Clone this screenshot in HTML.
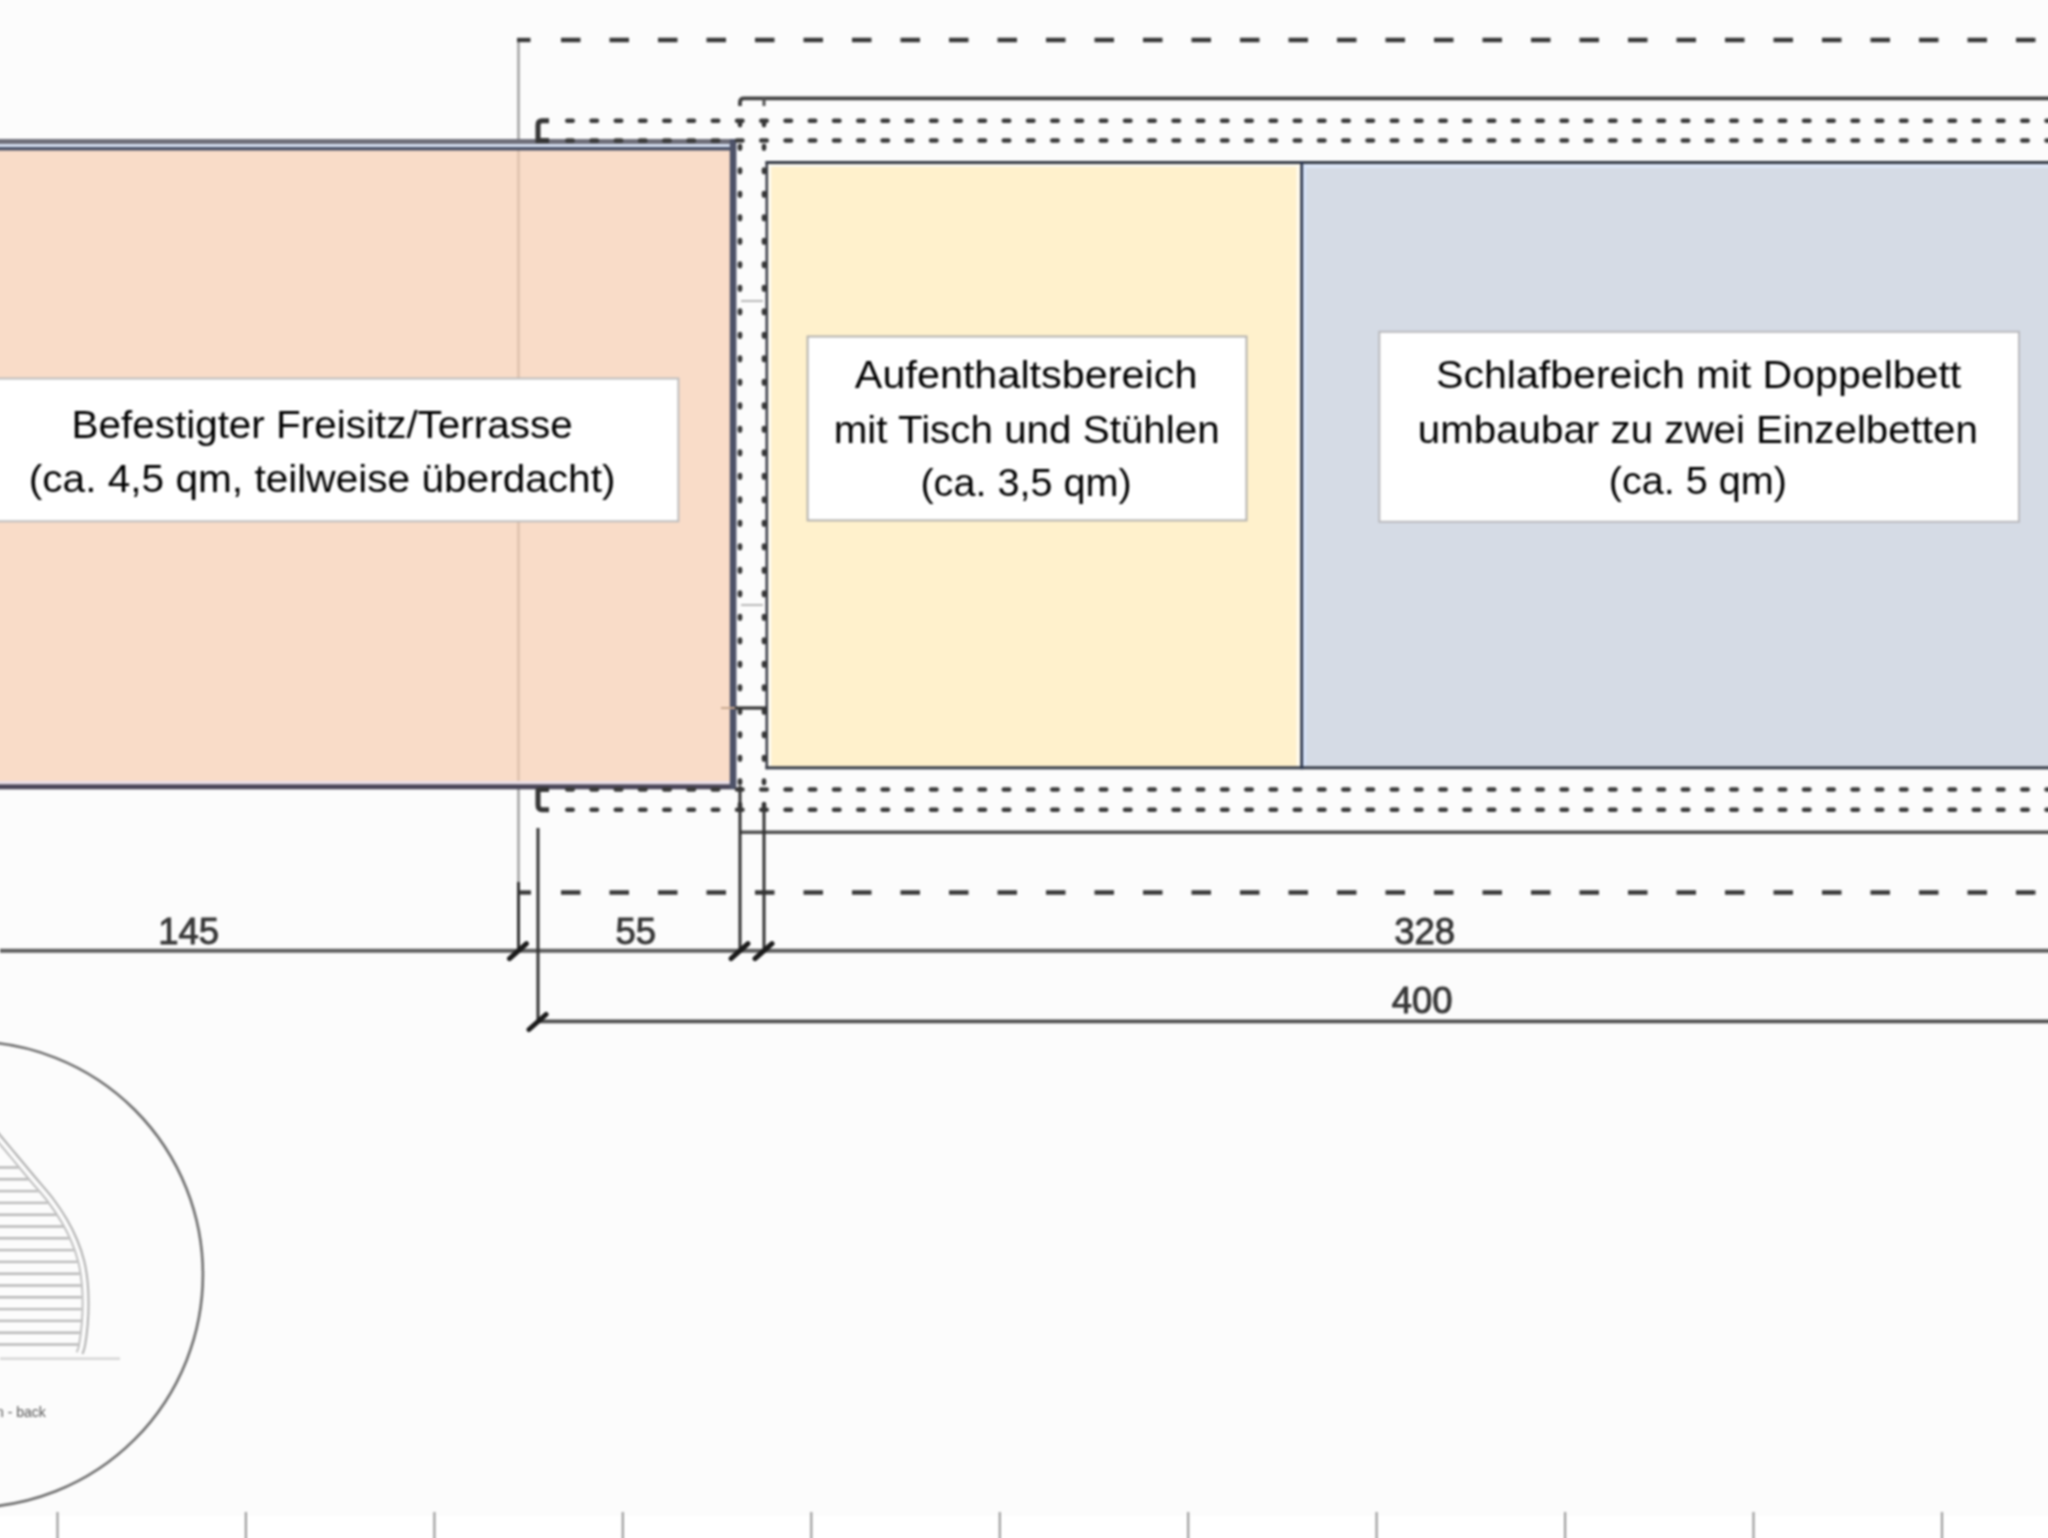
<!DOCTYPE html>
<html><head><meta charset="utf-8"><title>Grundriss</title>
<style>html,body{margin:0;padding:0;background:#fcfcfc;overflow:hidden;width:2048px;height:1538px}body{position:relative}svg{display:block;position:absolute;left:-10px;top:-10px;filter:blur(0.8px)}</style>
</head><body>
<svg width="2068" height="1558" viewBox="-10 -10 2068 1558"><rect x="-10" y="-10" width="2068" height="1558" fill="#fcfcfc"/>
<rect x="-10" y="1516" width="2068" height="32" fill="#ffffff"/>
<rect x="-10" y="144" width="741" height="640" fill="#f9dcc8"/>
<rect x="766" y="162" width="536" height="606" fill="#fff1cc"/>
<rect x="1302" y="162" width="760" height="606" fill="#d5dbe5"/>
<line x1="518.5" y1="40" x2="518.5" y2="140" stroke="#aaaaaa" stroke-width="2.8"/>
<line x1="518.5" y1="150" x2="518.5" y2="784" stroke="#e0c4b0" stroke-width="2.8"/>
<line x1="518.5" y1="789" x2="518.5" y2="882" stroke="#aaaaaa" stroke-width="2.8"/>
<rect x="-10" y="139" width="746" height="5" fill="#6f6f7a"/>
<rect x="-10" y="144" width="740" height="3" fill="#d6e0f2"/>
<rect x="-10" y="147" width="740" height="3.5" fill="#4b5369"/>
<rect x="-10" y="781" width="740" height="3" fill="#eadde6"/>
<rect x="-10" y="784.3" width="746" height="5" fill="#4a4558"/>
<rect x="729.8" y="139" width="6.6" height="650" fill="#4d5268"/>
<rect x="765.5" y="161" width="1300" height="3.1" fill="#333944"/>
<rect x="768" y="164" width="534" height="3" fill="#fbf8ee"/>
<rect x="1303" y="164" width="760" height="4" fill="#dde6f7"/>
<rect x="765.5" y="766.3" width="1300" height="3" fill="#363c48"/>
<rect x="765.5" y="161.3" width="2.7" height="607.9" fill="#3a3d48"/>
<rect x="768.2" y="164" width="3" height="602" fill="#fdfcf4"/>
<rect x="1296.5" y="164" width="4" height="602" fill="#fffbee"/>
<rect x="1300.3" y="161.3" width="3" height="607.9" fill="#2e3850"/>
<rect x="1303.3" y="164" width="3" height="602" fill="#d8e4fa"/>
<path d="M740 106 V102 Q740 98.3 744 98.3 H2060" fill="none" stroke="#404040" stroke-width="3.8"/>
<line x1="764" y1="98" x2="764" y2="106" stroke="#505050" stroke-width="3"/>
<line x1="740" y1="832.2" x2="2060" y2="832.2" stroke="#505050" stroke-width="3.6"/>
<line x1="517" y1="40" x2="530.5" y2="40" stroke="#383838" stroke-width="4.3" fill="none" stroke-width="4.2"/>
<line x1="561" y1="40" x2="2060" y2="40" stroke="#383838" stroke-width="4.3" fill="none" stroke-dasharray="19.5 29"/>
<line x1="518.5" y1="892.5" x2="531" y2="892.5" stroke="#383838" stroke-width="4.3" fill="none" stroke-width="3.6"/>
<line x1="561" y1="892.5" x2="2060" y2="892.5" stroke="#383838" stroke-width="4.3" fill="none" stroke-dasharray="19.5 29"/>
<line x1="567.3" y1="120.7" x2="2060" y2="120.7" stroke="#3a3a3a" stroke-width="4.6" fill="none" stroke-linecap="round" stroke-dasharray="5.4 18.85"/>
<line x1="567.3" y1="140.5" x2="2060" y2="140.5" stroke="#3a3a3a" stroke-width="4.6" fill="none" stroke-linecap="round" stroke-dasharray="5.4 18.85"/>
<line x1="567.3" y1="789.5" x2="2060" y2="789.5" stroke="#3a3a3a" stroke-width="4.6" fill="none" stroke-linecap="round" stroke-dasharray="5.4 18.85"/>
<line x1="567.3" y1="809.8" x2="2060" y2="809.8" stroke="#3a3a3a" stroke-width="4.6" fill="none" stroke-linecap="round" stroke-dasharray="5.4 18.85"/>
<path d="M549 120.7 H542 Q538 120.7 538 125 V140.5 H549" stroke="#353535" stroke-width="5" fill="none"/>
<path d="M549 789.5 H542 Q538 789.5 538 790 V805 Q538 809.8 542 809.8 H549" stroke="#353535" stroke-width="5" fill="none"/>
<line x1="740" y1="122.3" x2="740" y2="812" stroke="#363636" stroke-width="4.6" stroke-linecap="round" stroke-dasharray="2.6 20.9" stroke-dashoffset="-0.20000000000000284"/>
<line x1="764" y1="122.3" x2="764" y2="812" stroke="#363636" stroke-width="4.6" stroke-linecap="round" stroke-dasharray="2.6 20.9" stroke-dashoffset="-0.20000000000000284"/>
<line x1="741" y1="301" x2="763" y2="301" stroke="#b8b8b8" stroke-width="2"/>
<line x1="741" y1="605" x2="763" y2="605" stroke="#b8b8b8" stroke-width="2"/>
<line x1="721" y1="708" x2="735" y2="708" stroke="#c8a890" stroke-width="2"/>
<line x1="735" y1="708" x2="766" y2="708" stroke="#333" stroke-width="3.2"/>
<line x1="0" y1="950.7" x2="2060" y2="950.7" stroke="#5e5e5e" stroke-width="3.9"/>
<line x1="538" y1="1021.3" x2="2060" y2="1021.3" stroke="#4e4e4e" stroke-width="3.8"/>
<line x1="518.5" y1="882" x2="518.5" y2="951" stroke="#333" stroke-width="3"/>
<line x1="538" y1="828" x2="538" y2="1022" stroke="#333" stroke-width="3"/>
<line x1="740" y1="786" x2="740" y2="951" stroke="#333" stroke-width="3"/>
<line x1="764" y1="803" x2="764" y2="951" stroke="#333" stroke-width="3"/>
<line x1="509.5" y1="958.7" x2="526.5" y2="943.7" stroke="#1a1a1a" stroke-width="5" stroke-linecap="round"/>
<line x1="731" y1="958.7" x2="748" y2="943.7" stroke="#1a1a1a" stroke-width="5" stroke-linecap="round"/>
<line x1="755" y1="958.7" x2="772" y2="943.7" stroke="#1a1a1a" stroke-width="5" stroke-linecap="round"/>
<line x1="529" y1="1029.5" x2="546" y2="1014.5" stroke="#1a1a1a" stroke-width="5" stroke-linecap="round"/>
<text x="188.7" y="944" font-family="Liberation Sans" font-size="36.5" fill="#383838" stroke="#333" stroke-width="0.9" text-anchor="middle">145</text>
<text x="635.7" y="944" font-family="Liberation Sans" font-size="36.5" fill="#383838" stroke="#333" stroke-width="0.9" text-anchor="middle">55</text>
<text x="1424.6" y="944.3" font-family="Liberation Sans" font-size="36.5" fill="#383838" stroke="#333" stroke-width="0.9" text-anchor="middle">328</text>
<text x="1422.2" y="1013.4" font-family="Liberation Sans" font-size="36.5" fill="#383838" stroke="#333" stroke-width="0.9" text-anchor="middle">400</text>
<rect x="-34" y="378.5" width="712.4" height="142.8" fill="#ffffff" stroke="#bdbdbd" stroke-width="2"/>
<rect x="807.6" y="336.5" width="438.9" height="183.9" fill="#ffffff" stroke="#b4b2ae" stroke-width="2"/>
<rect x="1379.3" y="331.8" width="639.7" height="190" fill="#ffffff" stroke="#b9b9bd" stroke-width="2"/>
<text x="71.5" y="438" textLength="501.2" font-family="Liberation Sans" font-size="38" fill="#000000" lengthAdjust="spacingAndGlyphs">Befestigter Freisitz/Terrasse</text>
<text x="28.8" y="491.6" textLength="586.7" font-family="Liberation Sans" font-size="38" fill="#000000" lengthAdjust="spacingAndGlyphs">(ca. 4,5 qm, teilweise überdacht)</text>
<text x="854.8" y="388.4" textLength="342.6" font-family="Liberation Sans" font-size="38" fill="#000000" lengthAdjust="spacingAndGlyphs">Aufenthaltsbereich</text>
<text x="833.7" y="443" textLength="386.0" font-family="Liberation Sans" font-size="38" fill="#000000" lengthAdjust="spacingAndGlyphs">mit Tisch und Stühlen</text>
<text x="920.4" y="495.8" textLength="211.4" font-family="Liberation Sans" font-size="38" fill="#000000" lengthAdjust="spacingAndGlyphs">(ca. 3,5 qm)</text>
<text x="1436.0" y="388" textLength="525.3" font-family="Liberation Sans" font-size="38" fill="#000000" lengthAdjust="spacingAndGlyphs">Schlafbereich mit Doppelbett</text>
<text x="1417.8" y="442.8" textLength="560.1" font-family="Liberation Sans" font-size="38" fill="#000000" lengthAdjust="spacingAndGlyphs">umbaubar zu zwei Einzelbetten</text>
<text x="1608.7" y="494.3" textLength="178.3" font-family="Liberation Sans" font-size="38" fill="#000000" lengthAdjust="spacingAndGlyphs">(ca. 5 qm)</text>
<circle cx="-30.2" cy="1274.6" r="233.1" fill="none" stroke="#6e6e6e" stroke-width="2.6"/>
<path d="M-20 1111 C-16.7 1115.0 -6.2 1127.5 0 1135 C6.2 1142.5 11.7 1149.0 17.5 1156 C23.3 1163.0 29.1 1170.0 35 1177 C40.9 1184.0 47.3 1191.0 52.6 1198 C57.9 1205.0 62.6 1212.0 66.7 1219 C70.8 1226.0 74.3 1233.0 77.2 1240 C80.1 1247.0 82.5 1253.9 84.2 1261 C86.0 1268.1 87.0 1275.4 87.7 1282.5 C88.4 1289.6 88.6 1296.5 88.6 1303.5 C88.6 1310.5 88.3 1317.6 87.7 1324.6 C87.1 1331.6 85.9 1340.7 85 1345.6 C84.1 1350.5 82.9 1352.6 82.5 1354" fill="none" stroke="#b0b0b0" stroke-width="2"/>
<path d="M-24.6 1114.8 C-21.3 1118.8 -10.8 1131.3 -4.6 1138.8 C1.7 1146.3 7.1 1152.8 12.9 1159.8 C18.7 1166.8 24.6 1173.8 30.4 1180.8 C36.2 1187.8 42.6 1194.7 47.8 1201.6 C53.0 1208.5 57.5 1215.2 61.5 1222.0 C65.5 1228.8 68.9 1235.6 71.7 1242.3 C74.5 1249.0 76.7 1255.6 78.4 1262.4 C80.1 1269.2 81.0 1276.2 81.7 1283.1 C82.4 1289.9 82.6 1296.7 82.6 1303.5 C82.6 1310.3 82.3 1317.2 81.7 1324.1 C81.1 1330.9 79.9 1339.9 79.1 1344.6 C78.3 1349.3 77.1 1351.0 76.7 1352.3" fill="none" stroke="#bababa" stroke-width="1.8"/>
<clipPath id="hc"><path d="M-25.4 1115.5 C-22.1 1119.5 -11.7 1132.0 -5.4 1139.5 C0.8 1147.0 6.3 1153.5 12.1 1160.5 C17.9 1167.5 23.8 1174.5 29.6 1181.5 C35.4 1188.5 41.8 1195.4 47.0 1202.2 C52.2 1209.0 56.8 1215.8 60.7 1222.5 C64.7 1229.2 67.9 1236.0 70.7 1242.7 C73.5 1249.4 75.7 1256.0 77.4 1262.7 C79.1 1269.5 80.0 1276.4 80.7 1283.2 C81.4 1290.0 81.6 1296.7 81.6 1303.5 C81.6 1310.3 81.3 1317.2 80.7 1324.0 C80.1 1330.8 78.9 1339.7 78.1 1344.4 C77.3 1349.1 76.2 1350.7 75.8 1352.0 L-20 1354 Z"/></clipPath>
<g clip-path="url(#hc)">
<line x1="-20" y1="1167.5" x2="100" y2="1167.5" stroke="#b8b8b8" stroke-width="2.4"/>
<line x1="-20" y1="1179.3" x2="100" y2="1179.3" stroke="#b8b8b8" stroke-width="2.4"/>
<line x1="-20" y1="1191.1" x2="100" y2="1191.1" stroke="#b8b8b8" stroke-width="2.4"/>
<line x1="-20" y1="1202.9" x2="100" y2="1202.9" stroke="#b8b8b8" stroke-width="2.4"/>
<line x1="-20" y1="1214.7" x2="100" y2="1214.7" stroke="#b8b8b8" stroke-width="2.4"/>
<line x1="-20" y1="1226.5" x2="100" y2="1226.5" stroke="#b8b8b8" stroke-width="2.4"/>
<line x1="-20" y1="1238.3" x2="100" y2="1238.3" stroke="#b8b8b8" stroke-width="2.4"/>
<line x1="-20" y1="1250.1" x2="100" y2="1250.1" stroke="#b8b8b8" stroke-width="2.4"/>
<line x1="-20" y1="1261.9" x2="100" y2="1261.9" stroke="#b8b8b8" stroke-width="2.4"/>
<line x1="-20" y1="1273.7" x2="100" y2="1273.7" stroke="#b8b8b8" stroke-width="2.4"/>
<line x1="-20" y1="1285.5" x2="100" y2="1285.5" stroke="#b8b8b8" stroke-width="2.4"/>
<line x1="-20" y1="1297.3" x2="100" y2="1297.3" stroke="#b8b8b8" stroke-width="2.4"/>
<line x1="-20" y1="1309.1" x2="100" y2="1309.1" stroke="#b8b8b8" stroke-width="2.4"/>
<line x1="-20" y1="1320.9" x2="100" y2="1320.9" stroke="#b8b8b8" stroke-width="2.4"/>
<line x1="-20" y1="1332.7" x2="100" y2="1332.7" stroke="#b8b8b8" stroke-width="2.4"/>
<line x1="-20" y1="1344.5" x2="100" y2="1344.5" stroke="#b8b8b8" stroke-width="2.4"/>
</g>
<line x1="0" y1="1358.6" x2="120" y2="1358.6" stroke="#d2d2d2" stroke-width="2.2"/>
<text x="-4" y="1417" font-family="Liberation Sans" font-size="14" fill="#555">n - back</text>
<line x1="57.5" y1="1512" x2="57.5" y2="1540" stroke="#9c9c9c" stroke-width="2.2"/>
<line x1="245.9" y1="1512" x2="245.9" y2="1540" stroke="#9c9c9c" stroke-width="2.2"/>
<line x1="434.4" y1="1512" x2="434.4" y2="1540" stroke="#9c9c9c" stroke-width="2.2"/>
<line x1="622.8" y1="1512" x2="622.8" y2="1540" stroke="#9c9c9c" stroke-width="2.2"/>
<line x1="811.3" y1="1512" x2="811.3" y2="1540" stroke="#9c9c9c" stroke-width="2.2"/>
<line x1="999.8" y1="1512" x2="999.8" y2="1540" stroke="#9c9c9c" stroke-width="2.2"/>
<line x1="1188.2" y1="1512" x2="1188.2" y2="1540" stroke="#9c9c9c" stroke-width="2.2"/>
<line x1="1376.6" y1="1512" x2="1376.6" y2="1540" stroke="#9c9c9c" stroke-width="2.2"/>
<line x1="1565.1" y1="1512" x2="1565.1" y2="1540" stroke="#9c9c9c" stroke-width="2.2"/>
<line x1="1753.5" y1="1512" x2="1753.5" y2="1540" stroke="#9c9c9c" stroke-width="2.2"/>
<line x1="1942.0" y1="1512" x2="1942.0" y2="1540" stroke="#9c9c9c" stroke-width="2.2"/></svg>
</body></html>
